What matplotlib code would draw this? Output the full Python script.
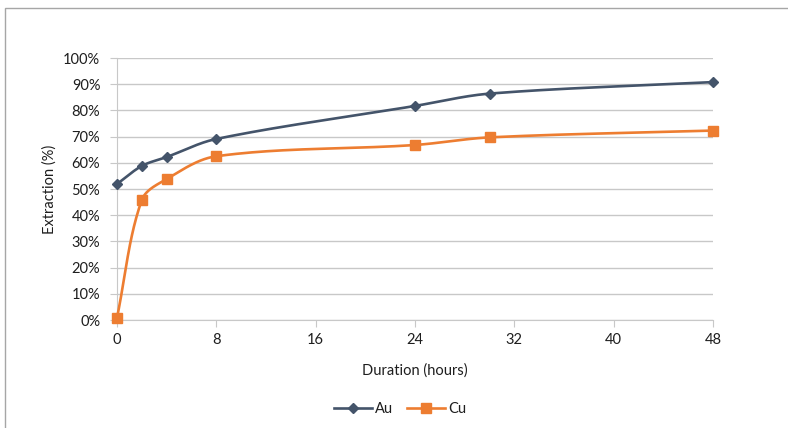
"""Au / Cu extraction vs leach duration, Excel-style smoothed lines."""
import numpy as np
import matplotlib.pyplot as plt
from matplotlib.patches import Rectangle
from matplotlib.ticker import FuncFormatter

hours = [0, 2, 4, 8, 24, 30, 48]
au = [51.9, 58.8, 62.2, 69.1, 81.7, 86.4, 90.8]
cu = [0.9, 45.8, 53.8, 62.5, 66.8, 69.7, 72.3]

x_ticks = [0, 8, 16, 24, 32, 40, 48]
y_ticks = list(range(0, 101, 10))

AU_COLOR = "#44546A"
CU_COLOR = "#ED7D31"
GRID = "#C8C8C8"
TEXT = "#1e1e1e"

# rough screen scale (px per unit) so the smoothing is done in pixel space
SX, SY = 596 / 48, 262 / 100


def smooth(x, y, n=40):
    # bezier through the points, tangent from neighbours, handles scaled by chord
    p = np.column_stack([np.asarray(x) * SX, np.asarray(y) * SY]).astype(float)
    m = len(p)
    d = np.zeros_like(p)
    for i in range(m):
        a, b = p[max(i - 1, 0)], p[min(i + 1, m - 1)]
        v = b - a
        d[i] = v / np.hypot(*v)
    out = []
    t = np.linspace(0, 1, n)[:, None]
    for i in range(m - 1):
        p1, p2 = p[i], p[i + 1]
        L = np.hypot(*(p2 - p1))
        c1 = p1 + d[i] * L / 3
        c2 = p2 - d[i + 1] * L / 3
        seg = ((1 - t) ** 3 * p1 + 3 * (1 - t) ** 2 * t * c1
               + 3 * (1 - t) * t ** 2 * c2 + t ** 3 * p2)
        out.append(seg if i == 0 else seg[1:])
    s = np.vstack(out)
    return s[:, 0] / SX, s[:, 1] / SY


def main():
    plt.rcParams["font.family"] = ["Lato", "DejaVu Sans"]
    fig = plt.figure(figsize=(7.88, 4.28), dpi=100)
    fig.patches.append(Rectangle((5 / 788, -0.1), 1.2, 1 - 8 / 428 + 0.1,
                                 transform=fig.transFigure, fill=False,
                                 edgecolor="#A6A6A6", lw=1))
    ax = fig.add_axes([117 / 788, (428 - 320) / 428, 596 / 788, 262 / 428])

    for vals, color, marker, ms, name in [(au, AU_COLOR, "D", 5.5, "Au"),
                                          (cu, CU_COLOR, "s", 6.5, "Cu")]:
        sx, sy = smooth(hours, vals)
        ax.plot(sx, sy, color=color, lw=1.9, clip_on=False, zorder=3)
        ax.plot(hours, vals, ls="none", marker=marker, ms=ms, color=color,
                clip_on=False, zorder=4)
        # legend proxy
        ax.plot([], [], color=color, lw=1.9, marker=marker, ms=ms, label=name)

    ax.set_xlim(0, 48)
    ax.set_ylim(0, 100)
    ax.set_xticks(x_ticks)
    ax.set_yticks(y_ticks)
    ax.yaxis.set_major_formatter(FuncFormatter(lambda v, _: f"{v:.0f}%"))
    ax.grid(axis="y", color=GRID, lw=1)
    ax.set_axisbelow(True)
    for side in ["top", "right"]:
        ax.spines[side].set_visible(False)
    ax.spines["left"].set_color(GRID)
    ax.spines["bottom"].set_color(GRID)
    ax.tick_params(axis="y", length=5, direction="out", color=GRID, pad=7,
                   labelsize=10.5, labelcolor=TEXT)
    ax.tick_params(axis="x", length=5, direction="out", color=GRID, pad=4,
                   labelsize=10.5, labelcolor=TEXT)
    ax.set_xlabel("Duration (hours)", fontsize=10.5, color=TEXT, labelpad=12)
    ax.set_ylabel("Extraction (%)", fontsize=10.5, color=TEXT, labelpad=5)

    ax.legend(loc="center", bbox_to_anchor=(400 / 788, 1 - 409 / 428),
              bbox_transform=fig.transFigure, ncol=2, frameon=False,
              fontsize=10.5, handlelength=2.6, columnspacing=1.0,
              handletextpad=0.2, labelcolor=TEXT)

    fig.savefig("out.png", dpi=100)


if __name__ == "__main__":
    main()
